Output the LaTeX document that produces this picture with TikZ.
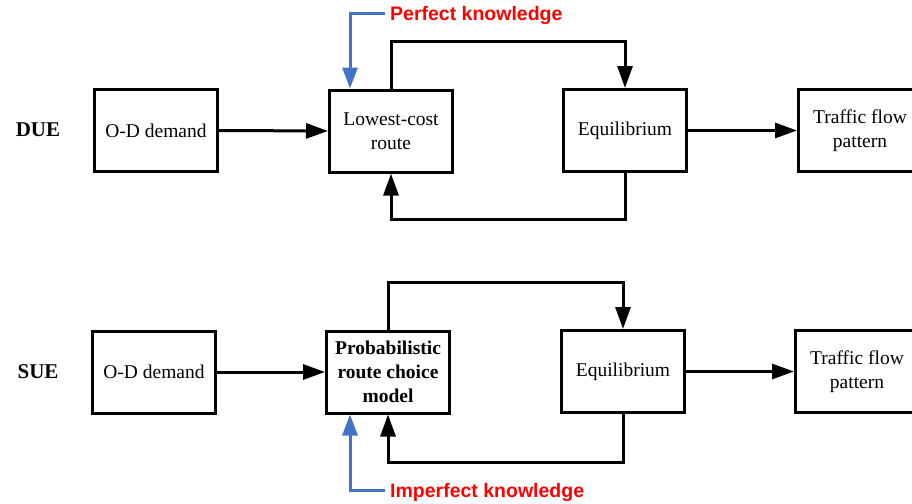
\documentclass[tikz,border=0pt]{standalone}
\usepackage{fontspec}
\setmainfont{Liberation Serif}
\newfontfamily\labfont{Liberation Sans}
\usetikzlibrary{arrows.meta}
\definecolor{kblue}{RGB}{68,114,196}
\definecolor{kred}{RGB}{255,0,0}
\begin{document}
\begin{tikzpicture}[x=1pt,y=-1pt,
  box/.style={draw=black,line width=3pt,minimum width=123pt,minimum height=82pt,inner sep=2pt,align=center,font=\fontsize{19.5}{24}\selectfont},
  rowlab/.style={font=\fontsize{21}{24}\selectfont\bfseries},
  arr/.style={draw=black,line width=3pt,-{Triangle[length=22pt,width=15pt]}},
  barr/.style={draw=kblue,line width=3pt,-{Triangle[length=21pt,width=15pt]}},
  knowlab/.style={text=kred,font=\labfont\fontsize{19.5}{22}\selectfont\bfseries,inner xsep=5pt,inner ysep=0pt,anchor=west}
]
\useasboundingbox (0,0) rectangle (912,503);
\clip (0,0) rectangle (912,503);
% top row
\node[rowlab] (due) at (38,130) {DUE};
\node[box] (od1) at (156,130.5) {O-D demand};
\node[box] (lc) at (391,131) {Lowest-cost\\route};
\node[box] (eq1) at (625,130.5) {Equilibrium};
\node[box] (tf1) at (860,130.5) {Traffic flow\\pattern};
\coordinate (pkend) at (385,14);
\node[knowlab] (pk) at (385,16) {Perfect knowledge};
\draw[arr] (od1.east) -- (lc.west);
\draw[arr] (eq1.east) -- (tf1.west);
\draw[arr] (lc.north) -- ++(0,-47) -| (eq1.north);
\draw[arr] (eq1.south) -- ++(0,46) -| (lc.south);
\draw[barr] (pkend) -| ([xshift=-41pt]lc.north);
% bottom row
\node[rowlab] (sue) at (38,372) {SUE};
\node[box] (od2) at (154,372) {O-D demand};
\node[box,font=\fontsize{19.5}{24}\selectfont\bfseries] (pr) at (388,372) {Probabilistic\\route choice\\model};
\node[box] (eq2) at (623,371.5) {Equilibrium};
\node[box] (tf2) at (857,371.5) {Traffic flow\\pattern};
\coordinate (ikend) at (385,490);
\node[knowlab] (ik) at (385,492) {Imperfect knowledge};
\draw[arr] (od2.east) -- (pr.west);
\draw[arr] (eq2.east) -- (tf2.west);
\draw[arr] (pr.north) -- ++(0,-47) -| (eq2.north);
\draw[arr] (eq2.south) -- ++(0,48) -| (pr.south);
\draw[barr] (ikend) -| ([xshift=-38pt]pr.south);
\end{tikzpicture}
\end{document}
